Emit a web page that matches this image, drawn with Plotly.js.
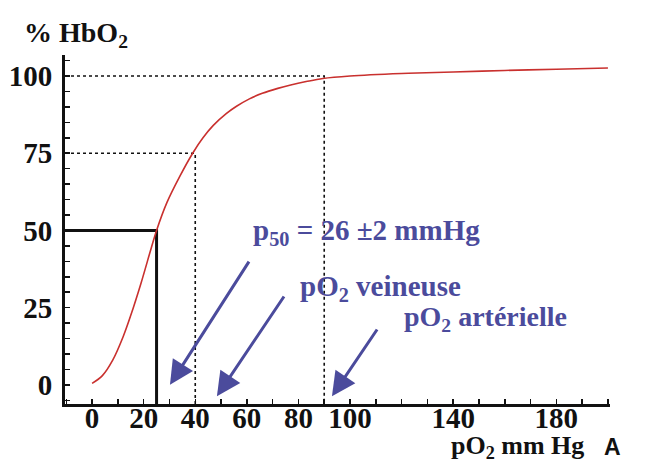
<!DOCTYPE html>
<html>
<head>
<meta charset="utf-8">
<script src="https://cdn.plot.ly/plotly-3.0.1.min.js"></script>
<style>html,body{margin:0;padding:0;background:#fff;}#chart{width:667px;height:466px;}</style>
</head>
<body>
<div id="chart"></div>
<script>
// Oxygen dissociation curve
const pO2 = [0, 4, 8, 12, 15, 19, 23, 25, 29, 34, 39, 43, 47, 52, 56, 61, 66, 72, 77, 83, 89.5, 100, 120, 140, 160, 180, 200];
const hbo2 = [0.5, 3, 8, 15.5, 22.5, 33, 44.5, 50, 59, 67.5, 75, 80, 84, 87.8, 90.2, 92.6, 94.4, 96, 97.1, 98.2, 99.2, 100, 100.8, 101.3, 101.8, 102.2, 102.6];

// reference points: p50, venous pO2, arterial pO2
const refNames = ['p50', 'veineuse', 'artérielle'];
const refX = [25, 40, 90];
const refY = [50, 75, 100];

const xTickVals = [0, 20, 40, 60, 80, 100, 140, 180];
const xTickText = ['0', '20', '40', '60', '80', '100', '140', '180'];
const yTickVals = [0, 25, 50, 75, 100];
const yTickText = ['0', '25', '50', '75', '100'];

const xRange = [-10.5, 200.8];
const yRange = [-6.2, 106.8];

const serif = "'Liberation Serif', 'Times New Roman', Times, serif";
const blue = '#4b4b9c';

const traces = [];
// guide lines (solid for p50, dotted for the others)
refX.forEach((x, i) => {
  traces.push({
    x: [xRange[0], x, x],
    y: [refY[i], refY[i], yRange[0]],
    mode: 'lines',
    type: 'scatter',
    hoverinfo: 'skip',
    line: i === 0 ? {color: '#111', width: 3} : {color: '#111', width: 1.6, dash: 'dot'},
    showlegend: false
  });
});
traces.push({
  x: pO2, y: hbo2, mode: 'lines', type: 'scatter',
  line: {color: '#c9302e', width: 1.6, shape: 'spline', smoothing: 1},
  showlegend: false
});

const layout = {
  width: 667, height: 466,
  margin: {l: 65, r: 57, t: 55, b: 62},
  paper_bgcolor: '#fff', plot_bgcolor: '#fff',
  showlegend: false,
  font: {family: serif},
  xaxis: {
    range: xRange, showgrid: false, zeroline: false,
    showline: true, linecolor: '#111', linewidth: 3,
    tickmode: 'array', tickvals: xTickVals, ticktext: xTickText,
    ticks: 'inside', ticklen: 5, tickwidth: 1.5, tickcolor: '#111',
    minor: {dtick: 10, tick0: 0, ticks: 'inside', ticklen: 5, tickwidth: 1.5, tickcolor: '#111'},
    tickfont: {family: serif, size: 29, color: '#111', weight: 'bold'},
    ticklabelstandoff: -14
  },
  yaxis: {
    range: yRange, showgrid: false, zeroline: false,
    showline: true, linecolor: '#111', linewidth: 3,
    tickmode: 'array', tickvals: yTickVals, ticktext: yTickText,
    ticks: 'inside', ticklen: 5, tickwidth: 1.5, tickcolor: '#111',
    minor: {dtick: 5, tick0: 0, ticks: 'inside', ticklen: 5, tickwidth: 1.5, tickcolor: '#111'},
    tickfont: {family: serif, size: 29, color: '#111', weight: 'bold'},
    ticklabelstandoff: 4
  },
  annotations: [
    {xref: 'paper', yref: 'paper', x: -0.078, y: 1.06, xanchor: 'left', yanchor: 'middle',
     text: '% HbO<sub>2</sub>', showarrow: false,
     font: {family: serif, size: 28, color: '#111', weight: 'bold'}},
    {xref: 'paper', yref: 'paper', x: 0.705, y: -0.124, xanchor: 'left', yanchor: 'middle',
     text: 'pO<sub>2</sub> mm Hg', showarrow: false,
     font: {family: serif, size: 26, color: '#111', weight: 'bold'}},
    {xref: 'paper', yref: 'paper', x: 0.986, y: -0.124, xanchor: 'left', yanchor: 'middle',
     text: 'A', showarrow: false,
     font: {family: "'Liberation Sans', Arial, sans-serif", size: 23, color: '#111', weight: 'bold'}},
    {xref: 'x', yref: 'y', x: 61.5, y: 49.5, xanchor: 'left', yanchor: 'middle',
     text: 'p<sub>50</sub> = 26 ±2 mmHg', showarrow: false,
     font: {family: serif, size: 29, color: blue, weight: 'bold'}},
    {xref: 'x', yref: 'y', x: 80, y: 31.5, xanchor: 'left', yanchor: 'middle',
     text: 'pO<sub>2</sub> veineuse', showarrow: false,
     font: {family: serif, size: 29, color: blue, weight: 'bold'}},
    {xref: 'x', yref: 'y', x: 120, y: 21.5, xanchor: 'left', yanchor: 'middle',
     text: 'pO<sub>2</sub> artérielle', showarrow: false,
     font: {family: serif, size: 28, color: blue, weight: 'bold'}},
    // arrows
    {xref: 'x', yref: 'y', axref: 'x', ayref: 'y', x: 30.2, y: 0, ax: 61.2, ay: 40.4,
     showarrow: true, arrowhead: 2, arrowsize: 1.6, arrowwidth: 3, arrowcolor: blue, text: ''},
    {xref: 'x', yref: 'y', axref: 'x', ayref: 'y', x: 48.4, y: -3.7, ax: 74.8, ay: 29.1,
     showarrow: true, arrowhead: 2, arrowsize: 1.6, arrowwidth: 3, arrowcolor: blue, text: ''},
    {xref: 'x', yref: 'y', axref: 'x', ayref: 'y', x: 93, y: -3.7, ax: 110.9, ay: 18.4,
     showarrow: true, arrowhead: 2, arrowsize: 1.6, arrowwidth: 3, arrowcolor: blue, text: ''}
  ]
};

Plotly.newPlot('chart', traces, layout, {displayModeBar: false, staticPlot: true});
</script>
</body>
</html>
